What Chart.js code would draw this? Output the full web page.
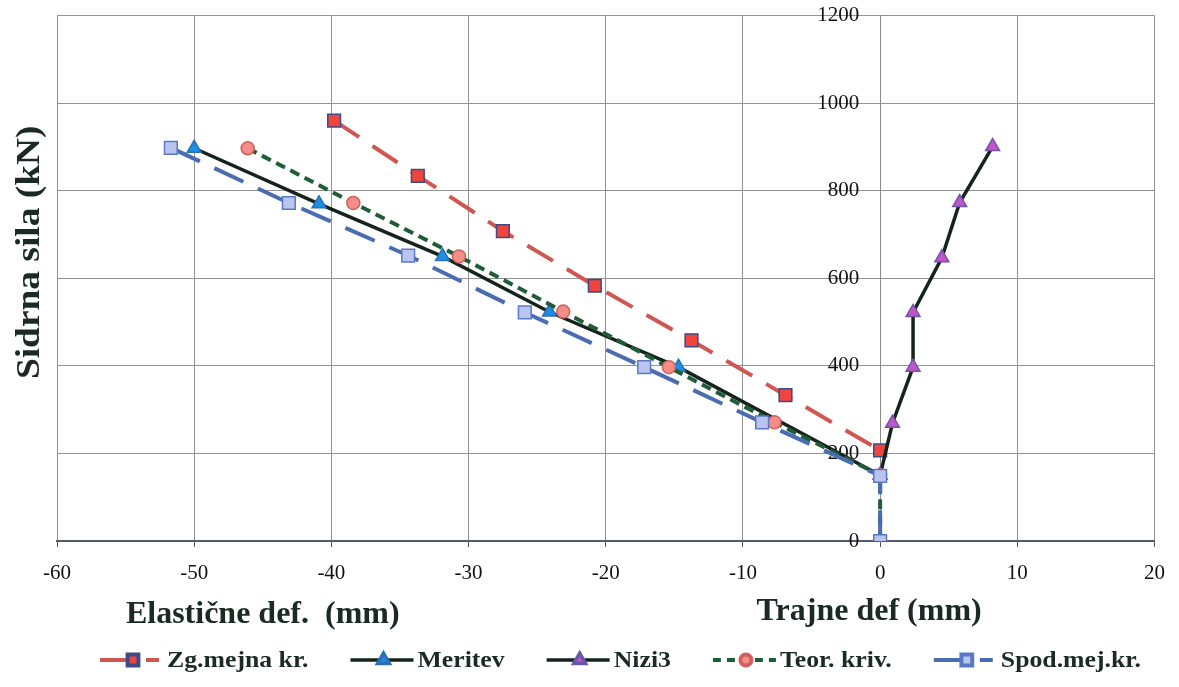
<!DOCTYPE html>
<html>
<head>
<meta charset="utf-8">
<script src="https://cdn.jsdelivr.net/npm/chart.js@4.4.0/dist/chart.umd.min.js"></script>
<style>
    body { margin: 0; background: #fff; }
</style>
</head>
<body>
<canvas id="chart" width="1179" height="687"></canvas>
<script>
// axis ranges / ticks
const xMin = -60, xMax = 20, xStep = 10;
const yMin = 0, yMax = 1200, yStep = 200;

// Zg.mejna kr.
const zgX = [-39.8, -33.7, -27.5, -20.8, -13.75, -6.9, 0];
const zgY = [960, 834, 708, 583, 458, 333, 207];

// Meritev
const merX = [-50.0, -40.9, -31.9, -24.1, -14.7, 0];
const merY = [897, 770, 650, 523, 397, 150];

// Nizi3
const niziX = [0, 0.9, 2.4, 2.4, 4.5, 5.8, 8.2];
const niziY = [150, 269, 397, 522, 647, 773, 901];

// Teor. kriv.
const teorX = [-46.1, -38.4, -30.7, -23.1, -15.4, -7.7, 0, 0];
const teorY = [897, 772, 650, 524, 397, 271, 150, 0];

// Spod.mej.kr.
const spodX = [-51.7, -43.1, -34.4, -25.9, -17.2, -8.6, 0, 0];
const spodY = [898, 772, 652, 522, 397, 271, 149, 0];

const FONT = "'Liberation Serif', 'Times New Roman', serif";
const TEXT_COLOR = '#1c2a24';

function pts(xs, ys) {
    return xs.map((x, i) => ({ x: x, y: ys[i] }));
}

const series = [
    { label: 'Zg.mejna kr.', xs: zgX, ys: zgY, line: '#cf5752', width: 4, dash: [30, 16], style: 'rect', radius: 9, fill: '#f0453f', stroke: '#3f4a86', order: 5, legDash: [27, 19, 13, 100] },
    { label: 'Meritev', xs: merX, ys: merY, line: '#16231c', width: 3.5, dash: [], style: 'triangle', radius: 8, fill: '#1c8fe0', stroke: '#2a70b8', order: 4, legDash: [] },
    { label: 'Nizi3', xs: niziX, ys: niziY, line: '#16231c', width: 3.5, dash: [], style: 'triangle', radius: 8, fill: '#c054c8', stroke: '#6d56a8', order: 3, legDash: [] },
    { label: 'Teor. kriv.', xs: teorX, ys: teorY, line: '#1f5c38', width: 4, dash: [10, 6], style: 'circle', radius: 6.5, fill: '#f48d88', stroke: '#d0605c', order: 2, legDash: [8, 6] },
    { label: 'Spod.mej.kr.', xs: spodX, ys: spodY, line: '#4a6db2', width: 4, dash: [32, 16], style: 'rect', radius: 9, fill: '#b9c5ee', stroke: '#5a78c8', order: 1, legDash: [27, 19, 13, 100] }
];

const datasets = series.map(s => ({
    label: s.label,
    data: pts(s.xs, s.ys),
    showLine: true,
    borderColor: s.line,
    borderWidth: s.width,
    borderDash: s.dash,
    pointStyle: s.style,
    pointRadius: s.radius,
    pointBackgroundColor: s.fill,
    pointBorderColor: s.stroke,
    pointBorderWidth: 1.5,
    tension: 0,
    order: s.order
}));

// axis titles + legend drawn by hand (two titles on the x axis, Excel style legend samples)
const overlayPlugin = {
    id: 'overlay',
    afterDraw(chart) {
        const ctx = chart.ctx;
        const area = chart.chartArea;
        const xs = chart.scales.x;
        ctx.save();
        ctx.fillStyle = TEXT_COLOR;
        ctx.font = 'bold 32px ' + FONT;
        ctx.textAlign = 'center';
        ctx.textBaseline = 'middle';
        ctx.fillText('Elastične def.  (mm)', xs.getPixelForValue(-45), area.bottom + 74);
        ctx.fillText('Trajne def (mm)', xs.getPixelForValue(-0.8), area.bottom + 71);

        ctx.save();
        ctx.translate(30, (area.top + area.bottom) / 2 - 26);
        ctx.rotate(-Math.PI / 2);
        ctx.scale(1.1, 1);
        ctx.font = 'bold 34px ' + FONT;
        ctx.fillText('Sidrna sila (kN)', 0, 0);
        ctx.restore();

        // legend
        const legY = 660, sampleW = 63, stretch = 1.12, gap = 42;
        let x = 100;
        ctx.font = 'bold 23px ' + FONT;
        ctx.textAlign = 'left';
        series.forEach(s => {
            ctx.save();
            ctx.strokeStyle = s.line;
            ctx.lineWidth = s.width;
            ctx.setLineDash(s.legDash);
            ctx.beginPath();
            ctx.moveTo(x, legY);
            ctx.lineTo(x + sampleW, legY);
            ctx.stroke();
            ctx.setLineDash([]);
            ctx.fillStyle = s.fill;
            ctx.strokeStyle = s.stroke;
            Chart.helpers.drawPoint(ctx, { pointStyle: s.style, radius: s.radius * 0.85, rotation: 0, borderWidth: 1.5 }, x + 33, legY);
            ctx.restore();

            const tx = x + sampleW + 4;
            const tw = ctx.measureText(s.label).width * stretch;
            ctx.save();
            ctx.translate(tx, legY);
            ctx.scale(stretch, 1);
            ctx.fillText(s.label, 0, 1);
            ctx.restore();
            x = tx + tw + gap;
        });
        ctx.restore();
    }
};

new Chart(document.getElementById('chart'), {
    type: 'scatter',
    data: { datasets: datasets },
    plugins: [overlayPlugin],
    options: {
        responsive: false,
        animation: false,
        devicePixelRatio: 1,
        layout: { padding: { left: 57, right: 24, top: 15, bottom: 50 } },
        scales: {
            x: {
                type: 'linear',
                min: xMin, max: xMax,
                afterFit: s => { s.height = 96; },
                ticks: { stepSize: xStep, color: '#111', font: { family: FONT, size: 21 }, padding: 14 },
                grid: { color: '#939393', lineWidth: 1, tickLength: 6, tickColor: '#555' },
                border: { color: '#555a66', width: 2 }
            },
            y: {
                type: 'linear',
                position: { x: 0 },
                min: yMin, max: yMax,
                ticks: {
                    stepSize: yStep, color: '#111', font: { family: FONT, size: 21 },
                    callback: v => String(v) + '\u2002\u2002'
                },
                grid: { color: '#939393', lineWidth: 1, drawTicks: false },
                border: { color: '#8a8a8a', width: 1 }
            }
        },
        plugins: {
            tooltip: { enabled: false },
            legend: { display: false }
        }
    }
});
</script>
</body>
</html>
